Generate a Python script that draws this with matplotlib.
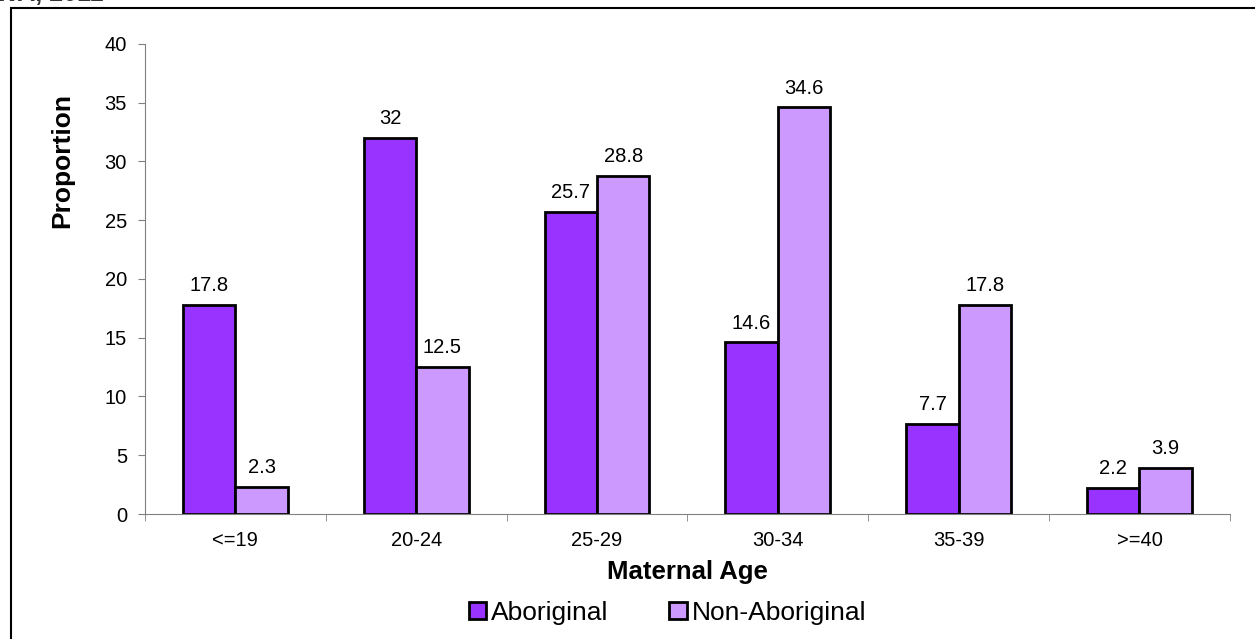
import numpy as np
import matplotlib
matplotlib.use("Agg")
from matplotlib import pyplot as plt
from matplotlib.patches import Rectangle

# data
age_groups = ["<=19", "20-24", "25-29", "30-34", "35-39", ">=40"]
aboriginal = [17.8, 32, 25.7, 14.6, 7.7, 2.2]
non_aboriginal = [2.3, 12.5, 28.8, 34.6, 17.8, 3.9]

plt.rcParams['font.family'] = ['Liberation Sans', 'DejaVu Sans']

fig = plt.figure(figsize=(12.55, 6.39), dpi=100)
ax = fig.add_axes([0.1155, 0.1956, 0.8645, 0.7356])

x = np.arange(len(age_groups))
w = 0.29
b1 = ax.bar(x - w / 2, aboriginal, w, color="#9933FF", edgecolor="black", linewidth=2, label="Aboriginal")
b2 = ax.bar(x + w / 2, non_aboriginal, w, color="#CC99FF", edgecolor="black", linewidth=2, label="Non-Aboriginal")

for bars, vals in [(b1, aboriginal), (b2, non_aboriginal)]:
    for rect, v in zip(bars, vals):
        ax.annotate(f"{v:g}", (rect.get_x() + rect.get_width() / 2, v),
                    xytext=(0, 7), textcoords="offset points",
                    ha="center", va="bottom", fontsize=14.5)

ax.set_xlim(-0.5, len(age_groups) - 0.5)
ax.set_ylim(0, 40)
ax.set_yticks(range(0, 41, 5))
ax.set_xticks(x)
ax.set_xticklabels(age_groups)
ax.set_xticks(np.arange(-0.5, len(age_groups), 1), minor=True)
ax.tick_params(axis="x", which="major", length=0, pad=12, labelsize=14.5)
ax.tick_params(axis="x", which="minor", length=5, color="#808080", direction="out")
ax.tick_params(axis="y", length=5, color="#808080", labelsize=14.5, pad=8)

for s in ["top", "right"]:
    ax.spines[s].set_visible(False)
for s in ["left", "bottom"]:
    ax.spines[s].set_color("#808080")

ax.set_ylabel("Proportion", fontsize=19, fontweight="bold", va="center")
ax.yaxis.set_label_coords(-0.0765, 0.753)
ax.set_xlabel("Maternal Age", fontsize=18.5, fontweight="bold", va="center")
ax.xaxis.set_label_coords(0.5, -0.123)

leg = fig.legend(handles=[b1, b2], loc="center", bbox_to_anchor=(0.532, 0.041),
                 ncol=2, frameon=False, fontsize=19, handlelength=0.65, handleheight=0.65,
                 handletextpad=0.2, columnspacing=2.3)

# outer frame, cut off by the screenshot edge
fig.patches.append(Rectangle((11 / 1255, -0.05), 1.2, 1.05 - 8 / 639,
                             transform=fig.transFigure, fill=False,
                             edgecolor="black", linewidth=1.5))
fig.text(-0.004, 1 - 1 / 639, "WA, 2011", fontsize=18, fontweight="bold",
         color="#333333", ha="left", va="baseline")

fig.savefig("out.png", dpi=100)
